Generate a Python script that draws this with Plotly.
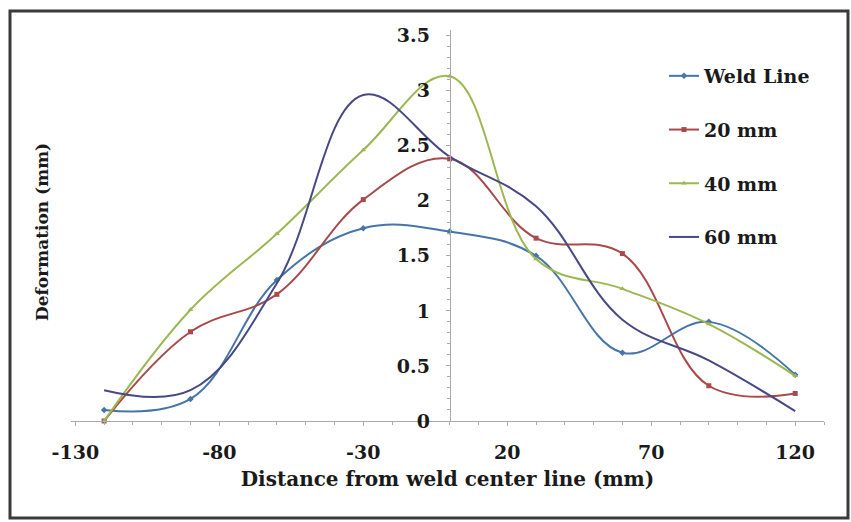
import plotly.graph_objects as go

# ---- data ----
distance = [-120, -90, -60, -30, 0, 30, 60, 90, 120]
weld_line = [0.10, 0.20, 1.28, 1.75, 1.72, 1.50, 0.62, 0.90, 0.42]
mm20 = [0.00, 0.81, 1.15, 2.01, 2.38, 1.66, 1.52, 0.32, 0.25]
mm40 = [0.00, 1.01, 1.70, 2.46, 3.13, 1.47, 1.20, 0.88, 0.41]
mm60 = [0.28, 0.28, 1.25, 2.96, 2.40, 1.95, 0.92, 0.55, 0.09]
series_names = ["Weld Line", "20 mm", "40 mm", "60 mm"]
x_ticks = [-130, -80, -30, 20, 70, 120]
x_tick_text = ["-130", "-80", "-30", "20", "70", "120"]
y_ticks = [0, 0.5, 1, 1.5, 2, 2.5, 3, 3.5]
y_tick_text = ["0", "0.5", "1", "1.5", "2", "2.5", "3", "3.5"]

FONT = "DejaVu Serif"
colors = ["#4675a8", "#a94a4a", "#9bb852", "#474985"]
symbols = ["diamond", "square", "triangle-up", None]
values = [weld_line, mm20, mm40, mm60]

fig = go.Figure()
for i, (name, ys) in enumerate(zip(series_names, values)):
    mode = "lines+markers" if symbols[i] else "lines"
    kw = dict(marker=dict(symbol=symbols[i], size=5, color=colors[i])) if symbols[i] else {}
    fig.add_trace(go.Scatter(
        x=distance, y=ys, name=name, mode=mode,
        line=dict(color=colors[i], width=2, shape="spline", smoothing=1.1),
        legendgroup=name, cliponaxis=False, **kw))

W, H = 851, 522
ml, mr, mt, mb = 71, 27, 30, 101
pw, ph = W - ml - mr, H - mt - mb
xr = [-131.5, 130]
yr = [0, 3.55]
ypos = (0 - xr[0]) / (xr[1] - xr[0])

def px2paper_x(p):
    return (p - ml) / pw

def px2paper_y(p):
    return (H - mb - p) / ph

TXT = "#1a1a1a"
fig.update_layout(
    width=W, height=H,
    margin=dict(l=ml, r=mr, t=mt, b=mb),
    paper_bgcolor="white", plot_bgcolor="white",
    font=dict(family=FONT, size=15, color=TXT),
    showlegend=True,
    legend=dict(x=px2paper_x(664), y=px2paper_y(57), xanchor="left", yanchor="top",
                font=dict(family=FONT, size=19, weight="bold", color=TXT),
                tracegroupgap=26, traceorder="grouped", itemwidth=30,
                bgcolor="rgba(0,0,0,0)"),
    xaxis=dict(range=xr, tickmode="array", tickvals=x_ticks, ticktext=x_tick_text,
               showgrid=False, zeroline=False, showline=True, linecolor="#aaaaaa", linewidth=1,
               ticks="outside", ticklen=4, tickcolor="#aaaaaa",
               minor=dict(dtick=10, tick0=-130, ticks="outside", ticklen=3, tickcolor="#aaaaaa"),
               tickfont=dict(family=FONT, size=19, weight="bold", color=TXT),
               ticklabelstandoff=10,
               title=dict(text="Distance from weld center line (mm)", standoff=10,
                          font=dict(family=FONT, size=20, weight="bold", color=TXT))),
    yaxis=dict(range=yr, tickmode="array", tickvals=y_ticks, ticktext=y_tick_text,
               anchor="free", position=ypos,
               showgrid=False, zeroline=False, showline=True, linecolor="#aaaaaa", linewidth=1,
               ticks="outside", ticklen=4, tickcolor="#aaaaaa",
               minor=dict(dtick=0.1, ticks="outside", ticklen=3, tickcolor="#aaaaaa"),
               tickfont=dict(family=FONT, size=19, weight="bold", color=TXT),
               ticklabelstandoff=12),
    annotations=[dict(text="Deformation (mm)", textangle=-90, xref="paper", yref="paper",
                      x=px2paper_x(30), y=px2paper_y(232), showarrow=False,
                      font=dict(family=FONT, size=17, weight="bold", color=TXT))],
    shapes=[dict(type="rect", xref="paper", yref="paper",
                 x0=px2paper_x(10), x1=px2paper_x(848), y0=px2paper_y(518), y1=px2paper_y(11),
                 line=dict(color="#3a3a3a", width=3))],
)

fig.write_html("out.html")
